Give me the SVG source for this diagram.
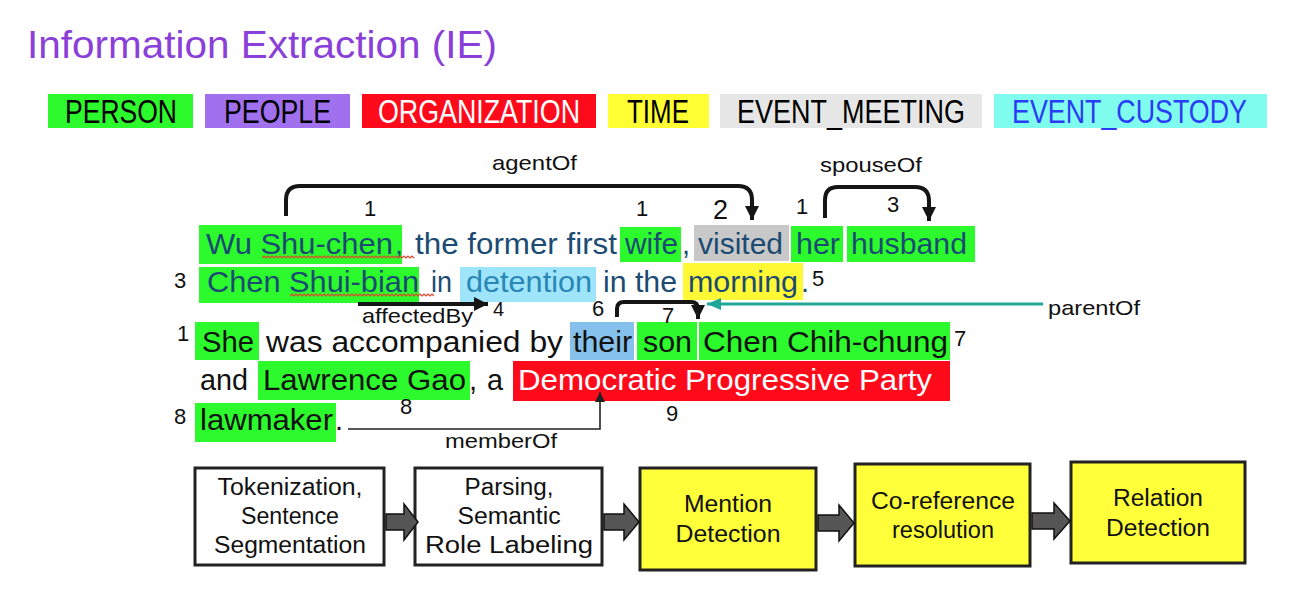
<svg xmlns="http://www.w3.org/2000/svg" width="1300" height="616" viewBox="0 0 1300 616">
  <style>
    text { font-family: "Liberation Sans", Arial, Helvetica, sans-serif; }
    .title { font-size: 38px; fill: #8a3fd9; }
    .leg { font-size: 33px; }
    .s1 { font-size: 29px; fill: #1b4b72; }
    .s3 { font-size: 29px; fill: #111; }
    .num { font-size: 22px; fill: #111; }
    .rel { font-size: 21px; fill: #111; }
    .step { font-size: 23px; fill: #111; text-anchor: middle; }
    .hlP { fill: #2cfa2c; }
    .box { stroke: #222; stroke-width: 3; }
    .conn { fill: none; stroke: #151515; stroke-width: 4; stroke-linecap: butt; }
    .squig { fill: none; stroke: #e2452b; stroke-width: 1.2; }
    .blk { fill: #555; stroke: #111; stroke-width: 1.5; }
  </style>
  <defs>
    <marker id="hd" markerUnits="userSpaceOnUse" markerWidth="16" markerHeight="16" refX="14" refY="8" orient="auto">
      <path d="M0,1 L14,8 L0,15 Z" fill="#151515"/>
    </marker>
    <marker id="hdTeal" markerUnits="userSpaceOnUse" markerWidth="16" markerHeight="14" refX="14" refY="7" orient="auto">
      <path d="M0,1 L14,7 L0,13 Z" fill="#1fa89a"/>
    </marker>
    <marker id="hdThin" markerUnits="userSpaceOnUse" markerWidth="12" markerHeight="12" refX="10" refY="6" orient="auto">
      <path d="M0,1 L10,6 L0,11 Z" fill="#222"/>
    </marker>
  </defs>

  <rect width="1300" height="616" fill="#fff"/>

  <!-- heading -->
  <text class="title" x="27" y="58" textLength="470" lengthAdjust="spacingAndGlyphs">Information Extraction (IE)</text>

  <!-- entity type legend -->
  <g id="legend">
    <rect x="48" y="94" width="145" height="34" fill="#2cfa2c"/>
    <text class="leg" x="65" y="123" fill="#000" textLength="112" lengthAdjust="spacingAndGlyphs">PERSON</text>
    <rect x="205" y="94" width="145" height="34" fill="#a070ee"/>
    <text class="leg" x="224" y="123" fill="#000" textLength="107" lengthAdjust="spacingAndGlyphs">PEOPLE</text>
    <rect x="362" y="94" width="234" height="34" fill="#ff0a1a"/>
    <text class="leg" x="378" y="123" fill="#fff" textLength="202" lengthAdjust="spacingAndGlyphs">ORGANIZATION</text>
    <rect x="608" y="94" width="101" height="34" fill="#ffff33"/>
    <text class="leg" x="627" y="123" fill="#000" textLength="62" lengthAdjust="spacingAndGlyphs">TIME</text>
    <rect x="720" y="94" width="262" height="34" fill="#e6e6e6"/>
    <text class="leg" x="737" y="123" fill="#000" textLength="228" lengthAdjust="spacingAndGlyphs">EVENT_MEETING</text>
    <rect x="994" y="94" width="273" height="34" fill="#80fcee"/>
    <text class="leg" x="1012" y="123" fill="#2a3cf5" textLength="235" lengthAdjust="spacingAndGlyphs">EVENT_CUSTODY</text>
  </g>

  <!-- mention highlights -->
  <g id="mentions">
    <rect class="hlP" x="199" y="225" width="203" height="39"/>
    <rect class="hlP" x="620" y="227" width="61" height="35"/>
    <rect x="694" y="225" width="95" height="36" fill="#c8c8c8"/>
    <rect class="hlP" x="791" y="226" width="52" height="36"/>
    <rect class="hlP" x="847" y="226" width="128" height="36"/>
    <rect class="hlP" x="199" y="267" width="220" height="36"/>
    <rect x="460" y="267" width="136" height="35" fill="#9ee5fb"/>
    <rect x="683" y="263" width="120" height="37" fill="#fff835"/>
    <rect class="hlP" x="195" y="322" width="64" height="38"/>
    <rect x="570" y="322" width="64" height="38" fill="#86c0ec"/>
    <rect class="hlP" x="637" y="322" width="60" height="38"/>
    <rect class="hlP" x="699" y="322" width="251" height="38"/>
    <rect class="hlP" x="258" y="361" width="212" height="39"/>
    <rect x="513" y="361" width="437" height="40" fill="#ff0a1a"/>
    <rect class="hlP" x="195" y="403" width="141" height="39"/>
  </g>

  <!-- sentence text -->
  <g id="sentence">
    <text class="s1" x="206" y="254" textLength="187" lengthAdjust="spacingAndGlyphs">Wu Shu-chen</text>
    <text class="s1" x="395" y="254">,</text>
    <text class="s1" x="415" y="254" textLength="202" lengthAdjust="spacingAndGlyphs">the former first</text>
    <text class="s1" x="625" y="254" textLength="53" lengthAdjust="spacingAndGlyphs">wife</text>
    <text class="s1" x="682" y="254">,</text>
    <text class="s1" x="698" y="254" textLength="85" lengthAdjust="spacingAndGlyphs">visited</text>
    <text class="s1" x="796" y="254" textLength="44" lengthAdjust="spacingAndGlyphs">her</text>
    <text class="s1" x="851" y="254" textLength="116" lengthAdjust="spacingAndGlyphs">husband</text>

    <text class="s1" x="207" y="292" textLength="212" lengthAdjust="spacingAndGlyphs">Chen Shui-bian</text>
    <text class="s1" x="431" y="292" textLength="21" lengthAdjust="spacingAndGlyphs">in</text>
    <text class="s1" x="466" y="292" textLength="126" lengthAdjust="spacingAndGlyphs" style="fill:#2a87b5">detention</text>
    <text class="s1" x="603" y="292" textLength="74" lengthAdjust="spacingAndGlyphs">in the</text>
    <text class="s1" x="688" y="292" textLength="110" lengthAdjust="spacingAndGlyphs">morning</text>
    <text class="s1" x="801" y="292">.</text>

    <text class="s3" x="202" y="352" textLength="52" lengthAdjust="spacingAndGlyphs">She</text>
    <text class="s3" x="266" y="352" textLength="297" lengthAdjust="spacingAndGlyphs">was accompanied by</text>
    <text class="s3" x="573" y="352" textLength="59" lengthAdjust="spacingAndGlyphs">their</text>
    <text class="s3" x="643" y="352" textLength="49" lengthAdjust="spacingAndGlyphs">son</text>
    <text class="s3" x="703" y="352" textLength="245" lengthAdjust="spacingAndGlyphs">Chen Chih-chung</text>

    <text class="s3" x="200" y="390" textLength="48" lengthAdjust="spacingAndGlyphs">and</text>
    <text class="s3" x="263" y="390" textLength="203" lengthAdjust="spacingAndGlyphs">Lawrence Gao</text>
    <text class="s3" x="469" y="390">,</text>
    <text class="s3" x="487" y="390" textLength="16" lengthAdjust="spacingAndGlyphs">a</text>
    <text class="s3" x="518" y="390" textLength="414" lengthAdjust="spacingAndGlyphs" style="fill:#fff">Democratic Progressive Party</text>

    <text class="s3" x="200" y="430" textLength="133" lengthAdjust="spacingAndGlyphs">lawmaker</text>
    <text class="s3" x="335" y="430">.</text>

    <!-- spell-check underlines -->
    <path class="squig" d="M262,258 l2,-2 l2,2 l2,-2 l2,2 l2,-2 l2,2 l2,-2 l2,2 l2,-2 l2,2 l2,-2 l2,2 l2,-2 l2,2 l2,-2 l2,2 l2,-2 l2,2 l2,-2 l2,2 l2,-2 l2,2 l2,-2 l2,2 l2,-2 l2,2 l2,-2 l2,2 l2,-2 l2,2 l2,-2 l2,2 l2,-2 l2,2 l2,-2 l2,2 l2,-2 l2,2 l2,-2 l2,2 l2,-2 l2,2 l2,-2 l2,2 l2,-2 l2,2 l2,-2 l2,2 l2,-2 l2,2 l2,-2 l2,2 l2,-2 l2,2 l2,-2 l2,2 l2,-2 l2,2 l2,-2 l2,2 l2,-2 l2,2 l2,-2 l2,2 l2,-2 l2,2 l2,-2 l2,2 l2,-2 l2,2 l2,-2 l2,2 l2,-2 l2,2 l2,-2 l2,2"/>
    <path class="squig" d="M290,296 l2,-2 l2,2 l2,-2 l2,2 l2,-2 l2,2 l2,-2 l2,2 l2,-2 l2,2 l2,-2 l2,2 l2,-2 l2,2 l2,-2 l2,2 l2,-2 l2,2 l2,-2 l2,2 l2,-2 l2,2 l2,-2 l2,2 l2,-2 l2,2 l2,-2 l2,2 l2,-2 l2,2 l2,-2 l2,2 l2,-2 l2,2 l2,-2 l2,2 l2,-2 l2,2 l2,-2 l2,2 l2,-2 l2,2 l2,-2 l2,2 l2,-2 l2,2 l2,-2 l2,2 l2,-2 l2,2 l2,-2 l2,2 l2,-2 l2,2 l2,-2 l2,2 l2,-2 l2,2 l2,-2 l2,2 l2,-2 l2,2 l2,-2 l2,2 l2,-2 l2,2 l2,-2 l2,2 l2,-2 l2,2 l2,-2 l2,2"/>
  </g>

  <!-- relation connectors -->
  <g id="connectors">
    <path id="agentOf" class="conn" d="M286,216 V200 Q286,186 300,186 H738 Q752,186 752,200 V220" marker-end="url(#hd)"/>
    <path id="spouseOf" class="conn" d="M825,218 V200 Q825,187 838,187 H915 Q929,187 929,201 V221" marker-end="url(#hd)"/>
    <path id="affectedBy" class="conn" d="M358,304 H488" marker-end="url(#hd)"/>
    <path id="parentOf-bracket" class="conn" d="M617,317 V309 Q617,302 624,302 H691 Q698,302 698,309 V319" marker-end="url(#hd)"/>
    <path id="parentOf" fill="none" stroke="#1fa89a" stroke-width="3" d="M1043,304 H707" marker-end="url(#hdTeal)"/>
    <path id="memberOf" fill="none" stroke="#222" stroke-width="1.6" d="M348,429 H600 V392" marker-end="url(#hdThin)"/>
  </g>

  <!-- relation names and mention indices -->
  <g id="labels">
    <text class="rel" x="492" y="170" textLength="85" lengthAdjust="spacingAndGlyphs">agentOf</text>
    <text class="rel" x="820" y="172" textLength="102" lengthAdjust="spacingAndGlyphs">spouseOf</text>
    <text class="rel" x="362" y="323" textLength="111" lengthAdjust="spacingAndGlyphs">affectedBy</text>
    <text class="rel" x="1048" y="315" textLength="92" lengthAdjust="spacingAndGlyphs">parentOf</text>
    <text class="rel" x="445" y="448" textLength="112" lengthAdjust="spacingAndGlyphs">memberOf</text>

    <text class="num" x="364" y="216">1</text>
    <text class="num" x="636" y="216">1</text>
    <text class="num" x="713" y="219" style="font-size:27px">2</text>
    <text class="num" x="796" y="214">1</text>
    <text class="num" x="887" y="212">3</text>
    <text class="num" x="174" y="288">3</text>
    <text class="num" x="812" y="286">5</text>
    <text class="num" x="493" y="316" style="font-size:20px">4</text>
    <text class="num" x="592" y="316">6</text>
    <text class="num" x="662" y="323">7</text>
    <text class="num" x="177" y="341">1</text>
    <text class="num" x="954" y="346">7</text>
    <text class="num" x="174" y="424">8</text>
    <text class="num" x="400" y="414">8</text>
    <text class="num" x="666" y="421">9</text>
  </g>

  <!-- processing pipeline -->
  <g id="step-tokenization">
    <rect class="box" x="195" y="468" width="189" height="97" fill="#fff"/>
    <text class="step" x="290" y="495" textLength="145" lengthAdjust="spacingAndGlyphs">Tokenization,</text>
    <text class="step" x="290" y="524" textLength="98" lengthAdjust="spacingAndGlyphs">Sentence</text>
    <text class="step" x="290" y="553" textLength="152" lengthAdjust="spacingAndGlyphs">Segmentation</text>
  </g>
  <g id="step-parsing">
    <rect class="box" x="415" y="468" width="187" height="97" fill="#fff"/>
    <text class="step" x="509" y="495" textLength="89" lengthAdjust="spacingAndGlyphs">Parsing,</text>
    <text class="step" x="509" y="524" textLength="103" lengthAdjust="spacingAndGlyphs">Semantic</text>
    <text class="step" x="509" y="553" textLength="168" lengthAdjust="spacingAndGlyphs">Role Labeling</text>
  </g>
  <g id="step-mention">
    <rect class="box" x="640" y="468" width="176" height="102" fill="#ffff3a"/>
    <text class="step" x="728" y="512" textLength="88" lengthAdjust="spacingAndGlyphs">Mention</text>
    <text class="step" x="728" y="542" textLength="105" lengthAdjust="spacingAndGlyphs">Detection</text>
  </g>
  <g id="step-coref">
    <rect class="box" x="855" y="464" width="175" height="102" fill="#ffff3a"/>
    <text class="step" x="943" y="509" textLength="144" lengthAdjust="spacingAndGlyphs">Co-reference</text>
    <text class="step" x="943" y="538" textLength="102" lengthAdjust="spacingAndGlyphs">resolution</text>
  </g>
  <g id="step-relation">
    <rect class="box" x="1071" y="462" width="174" height="101" fill="#ffff3a"/>
    <text class="step" x="1158" y="506" textLength="90" lengthAdjust="spacingAndGlyphs">Relation</text>
    <text class="step" x="1158" y="536" textLength="104" lengthAdjust="spacingAndGlyphs">Detection</text>
  </g>

  <!-- pipeline arrows -->
  <g id="pipeline-arrows">
    <path class="blk" d="M386,514 H404 V504 L418,522 L404,540 V530 H386 Z"/>
    <path class="blk" d="M604,514 H624 V504 L639,522 L624,540 V530 H604 Z"/>
    <path class="blk" d="M818,515 H839 V505 L854,523 L839,541 V531 H818 Z"/>
    <path class="blk" d="M1032,513 H1054 V503 L1070,521 L1054,539 V529 H1032 Z"/>
  </g>
</svg>
